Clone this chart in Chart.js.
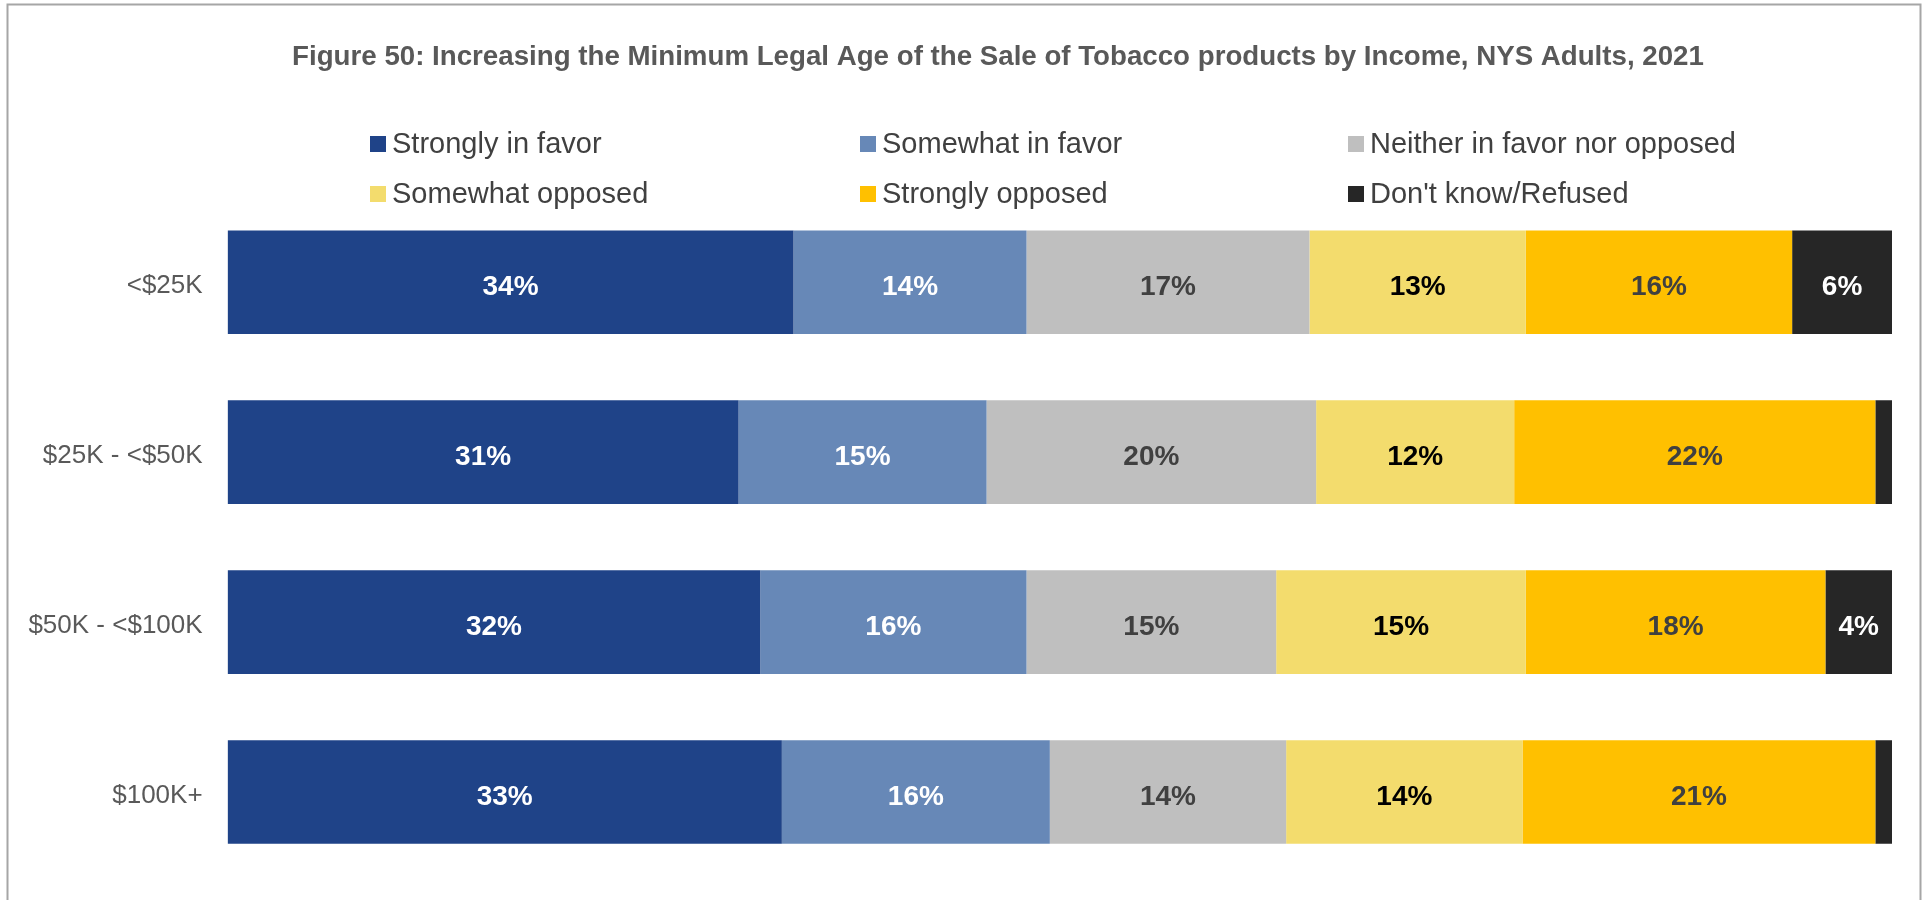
<!DOCTYPE html>
<html>
<head>
<meta charset="utf-8">
<title>Figure 50</title>
<script src="https://cdn.jsdelivr.net/npm/chart.js@4"></script>
<style>
  body { margin: 0; background: #fff; }
  canvas { display: block; }
</style>
</head>
<body>
<canvas id="chart" width="1929" height="900"></canvas>
<script>
// categories and series (percent of adults)
const incomeGroups = ["<$25K", "$25K - <$50K", "$50K - <$100K", "$100K+"];
const stronglyFavor = [34.0, 30.7, 32.0, 33.3];
const somewhatFavor = [14.0, 14.9, 16.0, 16.1];
const neitherFavorOpposed = [17.0, 19.8, 15.0, 14.2];
const somewhatOpposed = [13.0, 11.9, 15.0, 14.2];
const stronglyOpposed = [16.0, 21.7, 18.0, 21.2];
const dontKnow = [6.0, 1.0, 4.0, 1.0];

const seriesNames = [
  "Strongly in favor",
  "Somewhat in favor",
  "Neither in favor nor opposed",
  "Somewhat opposed",
  "Strongly opposed",
  "Don't know/Refused",
];
const seriesColors = ["#1f4388", "#6788b7", "#bfbfbf", "#f3dc6d", "#ffc000", "#262626"];
const labelColors = ["#ffffff", "#ffffff", "#404040", "#000000", "#404040", "#ffffff"];

const fontFamily = "'Liberation Sans', Arial, sans-serif";

// grey frame round the figure (no bottom edge visible)
const framePlugin = {
  id: "frame",
  beforeDraw: function (chart) {
    const ctx = chart.ctx;
    ctx.save();
    ctx.strokeStyle = "#a6a6a6";
    ctx.lineWidth = 2;
    ctx.beginPath();
    ctx.moveTo(7.5, 900);
    ctx.lineTo(7.5, 4.5);
    ctx.lineTo(1920.5, 4.5);
    ctx.lineTo(1920.5, 900);
    ctx.stroke();
    ctx.restore();
  },
};

// title in the original sits a bit right of the canvas centre
const titleShift = {
  id: "titleShift",
  afterLayout: function (chart) {
    const t = chart.titleBlock;
    if (!t) return;
    t.left = 104;
    t.right = 1892;
    t.width = t.right - t.left;
  },
};

// legend in a fixed 3 column grid like the excel one
const gridLegend = {
  id: "gridLegend",
  afterDraw: function (chart) {
    const ctx = chart.ctx;
    const cols = [370, 860, 1348];
    const rows = [144, 194];
    ctx.save();
    ctx.font = "29px " + fontFamily;
    ctx.textBaseline = "middle";
    ctx.textAlign = "left";
    chart.data.datasets.forEach(function (ds, i) {
      const x = cols[i % 3];
      const y = rows[Math.floor(i / 3)];
      ctx.fillStyle = ds.backgroundColor;
      ctx.fillRect(x, y - 8, 16, 16);
      ctx.fillStyle = "#404040";
      ctx.fillText(ds.label, x + 22, y + 1);
    });
    ctx.restore();
  },
};

// percent labels in the middle of each segment
const segmentLabels = {
  id: "segmentLabels",
  afterDatasetsDraw: function (chart) {
    const ctx = chart.ctx;
    ctx.save();
    ctx.font = "bold 28px " + fontFamily;
    ctx.textAlign = "center";
    ctx.textBaseline = "middle";
    chart.data.datasets.forEach(function (ds, i) {
      const meta = chart.getDatasetMeta(i);
      meta.data.forEach(function (bar, j) {
        const v = ds.data[j];
        if (v < 3) return; // tiny slivers have no label
        ctx.fillStyle = labelColors[i];
        ctx.fillText(Math.round(v) + "%", (bar.x + bar.base) / 2, bar.y + 5);
      });
    });
    ctx.restore();
  },
};

const allSeries = [stronglyFavor, somewhatFavor, neitherFavorOpposed, somewhatOpposed, stronglyOpposed, dontKnow];

const datasets = allSeries.map(function (values, i) {
  return {
    label: seriesNames[i],
    data: values,
    backgroundColor: seriesColors[i],
    borderWidth: 0,
    barPercentage: 1,
    categoryPercentage: 0.61,
  };
});

const ctx = document.getElementById("chart").getContext("2d");

const chart = new Chart(ctx, {
  type: "bar",
  data: {
    labels: incomeGroups,
    datasets: datasets,
  },
  options: {
    indexAxis: "y",
    responsive: false,
    animation: false,
    layout: {
      padding: { left: 0, right: 37, top: 0, bottom: 23 },
    },
    plugins: {
      legend: { display: false },
      tooltip: { enabled: false },
      title: {
        display: true,
        text: "Figure 50: Increasing the Minimum Legal Age of the Sale of Tobacco products by Income, NYS Adults, 2021",
        color: "#595959",
        font: { family: fontFamily, size: 27.7, weight: "bold" },
        padding: { top: 41, bottom: 123 },
      },
    },
    scales: {
      x: {
        stacked: true,
        min: 0,
        max: 100,
        display: false,
      },
      y: {
        stacked: true,
        // grid hidden, tick length only used as the gap before the labels
        grid: { display: false, drawTicks: true, tickLength: 25 },
        border: { display: false },
        ticks: {
          color: "#595959",
          padding: 0,
          labelOffset: 4,
          font: { family: fontFamily, size: 26 },
        },
        afterFit: function (scale) {
          scale.width = 227.6;
          scale.paddingTop = 0;
          scale.paddingBottom = 0;
        },
      },
    },
  },
  plugins: [framePlugin, titleShift, gridLegend, segmentLabels],
});
</script>
</body>
</html>
